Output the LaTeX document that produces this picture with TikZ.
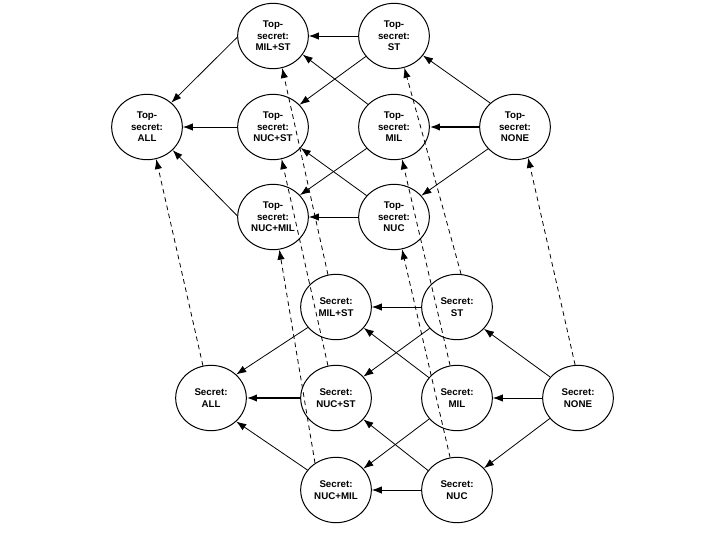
\documentclass[tikz,border=0pt]{standalone}
\usepackage{fontspec}
\setmainfont{Liberation Sans}
\usetikzlibrary{shapes.geometric, arrows.meta}
\begin{document}
\begin{tikzpicture}[x=0.75pt, y=-0.75pt,
  lev/.style={ellipse, draw, line width=0.75pt, minimum width=53pt, minimum height=49pt, inner sep=0pt, align=center, font=\fontsize{7.3}{8.7}\selectfont\bfseries},
  arr/.style={-{Latex[length=7.5pt,width=5.5pt]}, line width=0.6pt},
  thk/.style={line width=1.1pt},
  dsh/.style={-{Latex[length=7.5pt,width=5.5pt]}, line width=0.6pt, dash pattern=on 3.5pt off 2.8pt}
]
\useasboundingbox (0,0) rectangle (720,540);
% Top-secret layer
\node[lev] (tmst)  at (273,36)  {Top-\\secret:\\MIL+ST};
\node[lev] (tst)   at (394,36)  {Top-\\secret:\\ST};
\node[lev] (tall)  at (147,127) {Top-\\secret:\\ALL};
\node[lev] (tnst)  at (273,127) {Top-\\secret:\\NUC+ST};
\node[lev] (tmil)  at (394,127) {Top-\\secret:\\MIL};
\node[lev] (tnone) at (515,127) {Top-\\secret:\\NONE};
\node[lev] (tnm)   at (273,217) {Top-\\secret:\\NUC+MIL};
\node[lev] (tnuc)  at (394,217) {Top-\\secret:\\NUC};
% Secret layer
\node[lev] (smst)  at (336,307) {Secret:\\MIL+ST};
\node[lev] (sst)   at (457,307) {Secret:\\ST};
\node[lev] (sall)  at (211,398) {Secret:\\ALL};
\node[lev] (snst)  at (336,398) {Secret:\\NUC+ST};
\node[lev] (smil)  at (457,398) {Secret:\\MIL};
\node[lev] (snone) at (578,398) {Secret:\\NONE};
\node[lev] (snm)   at (336,490) {Secret:\\NUC+MIL};
\node[lev] (snuc)  at (457,490) {Secret:\\NUC};
% Top-secret edges
\draw[arr] (tst.west) -- (tmst.east);
\draw[arr] (tmst.182) -- (tall.45);
\draw[arr] (tst.216) -- (tnst.40);
\draw[arr] (tmil.139) -- (tmst.-32);
\draw[arr] (tnone.136) -- (tst.-34);
\draw[arr] (tnst.west) -- (tall.east);
\draw[arr,thk] (tnone.west) -- (tmil.east);
\draw[arr] (tmil.218) -- (tnm.39);
\draw[arr] (tnuc.142) -- (tnst.-37);
\draw[arr] (tnone.219) -- (tnuc.38);
\draw[arr] (tnm.178) -- (tall.-42);
\draw[arr] (tnuc.west) -- (tnm.east);
% Secret edges
\draw[arr] (sst.west) -- (smst.east);
\draw[arr] (smst.216) -- (sall.43);
\draw[arr] (sst.218) -- (snst.38);
\draw[arr] (smil.144) -- (smst.-37);
\draw[arr] (snone.143) -- (sst.-39);
\draw[arr,thk] (snst.west) -- (sall.east);
\draw[arr] (snone.west) -- (smil.east);
\draw[arr] (smil.217) -- (snm.38);
\draw[arr] (snuc.146) -- (snst.-38);
\draw[arr] (snone.216) -- (snuc.39);
\draw[arr] (snm.145) -- (sall.-43);
\draw[arr] (snuc.west) -- (snm.east);
% Dashed links between layers
\draw[dsh] (sall.104) -- (tall.-74);
\draw[dsh] (smst.104) -- (tmst.-74);
\draw[dsh] (sst.83) -- (tst.-72);
\draw[dsh] (snst.104) -- (tnst.-75);
\draw[dsh] (smil.102) -- (tmil.-76);
\draw[dsh] (snone.95) -- (tnone.-67);
\draw[dsh] (snm.128) -- (tnm.-79);
\draw[dsh] (snuc.102) -- (tnuc.-76);
\end{tikzpicture}
\end{document}
